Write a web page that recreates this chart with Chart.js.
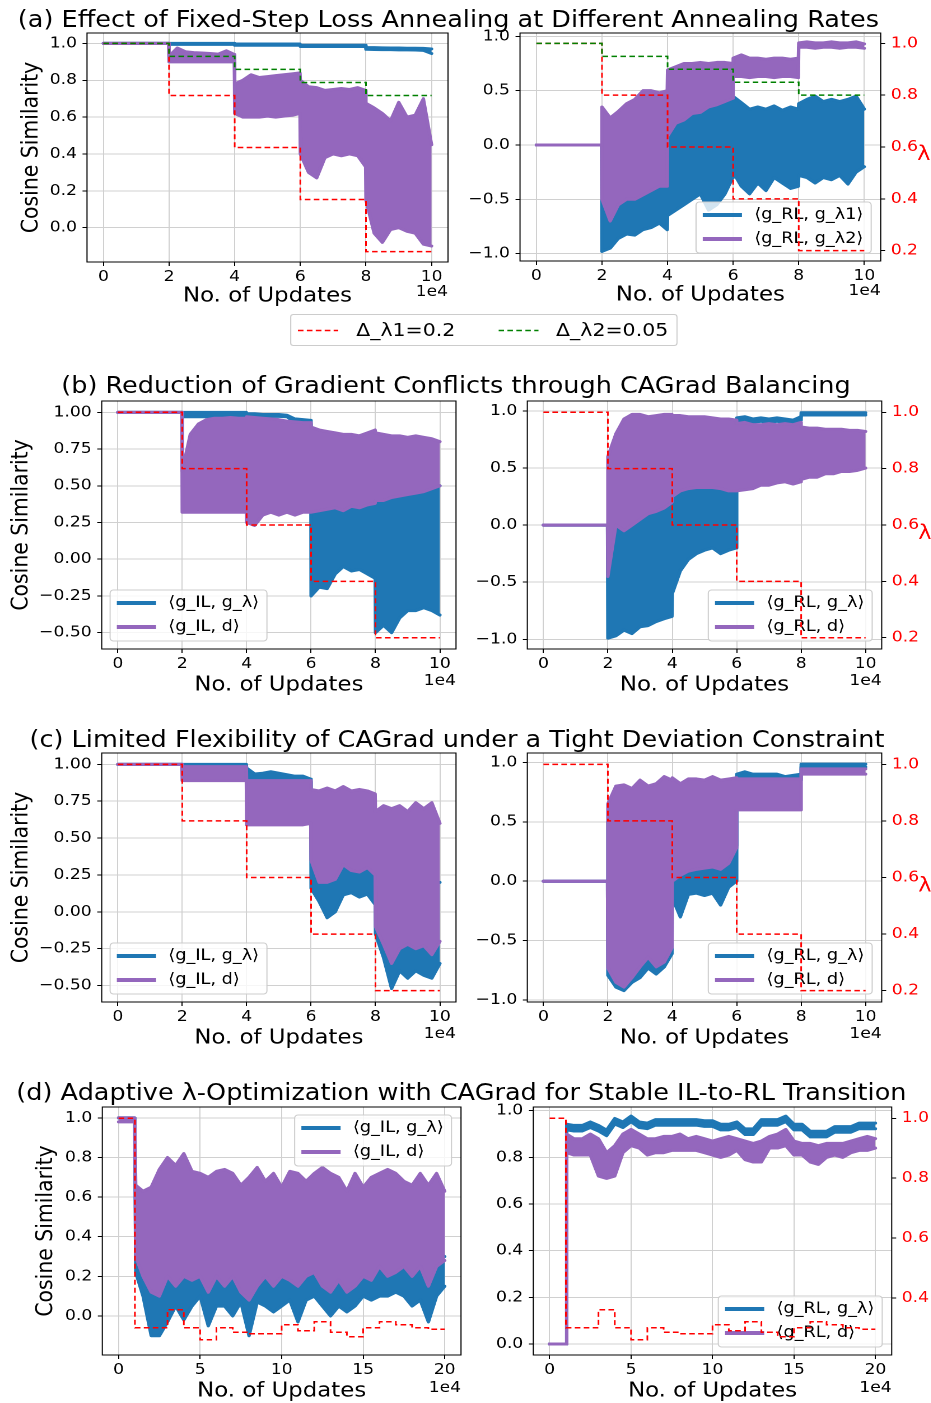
<!DOCTYPE html>
<html><head><meta charset="utf-8">
<script src="https://cdn.jsdelivr.net/npm/chart.js@4.4.0/dist/chart.umd.min.js"></script>
<style>
html,body{margin:0;padding:0;background:#fff;overflow:hidden;}
#root{position:relative;width:831.25px;height:1403px;transform:scaleX(1.12);transform-origin:0 0;font-family:'DejaVu Sans',sans-serif;color:#000;}
#root canvas{position:absolute;}
.ttl{position:absolute;white-space:nowrap;font-size:22.8px;line-height:1;transform:translateX(-50%);}
#figleg{position:absolute;left:259px;top:314px;width:345.5px;height:32px;border:1px solid #ccc;border-radius:3px;box-sizing:border-box;background:#fff;}
#figleg span{position:absolute;top:6px;font-size:18.3px;line-height:1;white-space:nowrap;}
#figleg svg{position:absolute;top:14px;}
</style></head>
<body><div id="root">
<div class="ttl" style="left:400.4px;top:8px">(a) Effect of Fixed-Step Loss Annealing at Different Annealing Rates</div>
<div class="ttl" style="left:407.1px;top:374px">(b) Reduction of Gradient Conflicts through CAGrad Balancing</div>
<div class="ttl" style="left:408px;top:727.5px">(c) Limited Flexibility of CAGrad under a Tight Deviation Constraint</div>
<div class="ttl" style="left:412px;top:1080.8px">(d) Adaptive λ-Optimization with CAGrad for Stable IL-to-RL Transition</div>
<div id="figleg">
 <svg style="left:6px" width="36" height="3"><line x1="0" y1="1.5" x2="36" y2="1.5" stroke="#ff0000" stroke-width="1.5" stroke-dasharray="5,3"/></svg>
 <span style="left:58px">Δ_λ1=0.2</span>
 <svg style="left:185px" width="36" height="3"><line x1="0" y1="1.5" x2="36" y2="1.5" stroke="#008000" stroke-width="1.5" stroke-dasharray="5,3"/></svg>
 <span style="left:236.5px">Δ_λ2=0.05</span>
</div>
</div>
<script>
// ---------- data ----------
const X10 = [0,1,1.99, 2,2.25,2.5,2.75,3,3.25,3.5,3.75,3.99, 4,4.25,4.5,4.75,5,5.25,5.5,5.75,5.99, 6,6.25,6.5,6.75,7,7.25,7.5,7.75,7.99, 8,8.25,8.5,8.75,9,9.25,9.5,9.75,10];
const X20 = [0,0.99,1.05,1.5,2,2.5,3,3.5,4,4.5,5,5.5,6,6.5,7,7.5,8,8.5,9,9.5,10,10.5,11,11.5,12,12.5,13,13.5,14,14.5,15,15.5,16,16.5,17,17.5,18,18.5,19,19.5,20];

const LAM_X10 = [0,2,4,6,8,10];
const LAM_1 = [1.0,0.8,0.6,0.4,0.2,0.2];
const LAM_2 = [1.0,0.95,0.9,0.85,0.8,0.8];
const LAM_X20 = [0,1,2,3,4,5,6,7,8,9,10,11,12,13,14,15,16,17,18,19,20];
const LAM_D = [1.0,0.30,0.30,0.36,0.30,0.26,0.30,0.285,0.28,0.28,0.31,0.29,0.32,0.285,0.27,0.30,0.32,0.31,0.30,0.295,0.295];

const X_TICKS_10 = [0,2,4,6,8,10];
const X_TICKS_20 = [0,5,10,15,20];
const Y_TICKS_01 = [0,0.2,0.4,0.6,0.8,1.0];
const Y_TICKS_PM1 = [-1,-0.5,0,0.5,1];
const Y_TICKS_Q = [-0.5,-0.25,0,0.25,0.5,0.75,1];
const LAM_TICKS = [0.2,0.4,0.6,0.8,1.0];
const LAM_TICKS_D = [0.4,0.6,0.8,1.0];

const LABELS_A = ['\u27E8g_RL, g_\u03BB1\u27E9','\u27E8g_RL, g_\u03BB2\u27E9'];
const LABELS_IL = ['\u27E8g_IL, g_\u03BB\u27E9','\u27E8g_IL, d\u27E9'];
const LABELS_RL = ['\u27E8g_RL, g_\u03BB\u27E9','\u27E8g_RL, d\u27E9'];

// (a) left
const A_L_BLUE_HI = [1,1,1, 1,1,1,1,1,1,1,1,1, .997,.997,.997,.997,.997,.997,.997,.997,.997, .99,.99,.99,.99,.99,.99,.99,.99,.99, .978,.977,.976,.975,.975,.974,.974,.973,.97];
const A_L_BLUE_LO = [1,1,1, .995,.995,.995,.995,.995,.995,.995,.995,.995, .99,.99,.99,.99,.99,.99,.99,.99,.99, .983,.983,.983,.983,.983,.983,.983,.983,.983, .968,.967,.966,.966,.965,.965,.964,.962,.945];
const A_L_PURP_HI = [1,1,1, .93,.975,.955,.95,.948,.945,.942,.96,.94, .78,.8,.83,.815,.82,.825,.83,.835,.84, .8,.765,.76,.745,.75,.755,.75,.76,.745, .675,.65,.62,.58,.68,.6,.61,.7,.45];
const A_L_PURP_LO = [1,1,1, .9,.9,.9,.9,.9,.9,.9,.9,.9, .62,.6,.6,.6,.605,.6,.605,.61,.62, .4,.3,.27,.38,.4,.39,.4,.39,.33, .15,-.03,-.08,-.01,0,-.02,-.03,-.09,-.1];
// (a) right
const A_R_BLUE_HI = [0,0,0, 0,.05,0,.06,.1,.12,.15,.15,.2, .15,.22,.26,.3,.32,.36,.38,.42,.45, .45,.39,.33,.35,.33,.36,.32,.35,.33, .38,.42,.45,.4,.42,.4,.42,.45,.33];
const A_R_BLUE_LO = [0,0,0, -.98,-.95,-.86,-.82,-.83,-.78,-.76,-.72,-.78, -.65,-.6,-.55,-.5,-.45,-.6,-.55,-.45,-.3, -.25,-.38,-.45,-.35,-.42,-.3,-.35,-.4,-.38, -.28,-.3,-.35,-.3,-.32,-.28,-.36,-.25,-.2];
const A_R_PURP_HI = [0,0,0, .35,.25,.31,.38,.42,.5,.5,.48,.5, .69,.72,.75,.75,.76,.75,.76,.76,.75, .8,.83,.8,.8,.79,.8,.8,.79,.8, .94,.95,.94,.94,.95,.94,.94,.95,.93];
const A_R_PURP_LO = [0,0,0, -.5,-.7,-.55,-.5,-.5,-.46,-.42,-.38,-.38, .08,.2,.23,.29,.3,.35,.37,.4,.43, .63,.63,.62,.63,.63,.62,.63,.63,.62, .9,.9,.89,.9,.9,.89,.9,.9,.89];
// (b) left
const B_L_BLUE_HI = [1,1,1, 1,1,1,1,1,1,1,1,1, .99,.99,.985,.985,.985,.98,.955,.95,.945, .33,.34,.35,.36,.4,.38,.44,.4,.42, .42,.43,.45,.45,.46,.47,.48,.5,.5];
const B_L_BLUE_LO = [1,1,1, .97,.97,.97,.97,.97,.97,.97,.97,.97, .975,.975,.972,.972,.972,.97,.93,.925,.92, -.25,-.19,-.2,-.1,-.05,-.08,-.07,-.1,-.13, -.5,-.45,-.5,-.4,-.35,-.35,-.33,-.35,-.38];
const B_L_PURP_HI = [1,1,1, .6,.85,.92,.95,.96,.96,.965,.96,.96, .97,.965,.96,.955,.95,.94,.935,.93,.93, .9,.88,.87,.86,.85,.85,.84,.86,.88, .86,.85,.84,.84,.83,.84,.83,.82,.8];
const B_L_PURP_LO = [1,1,1, .32,.32,.32,.32,.32,.32,.32,.32,.32, .25,.23,.3,.32,.3,.32,.3,.32,.32, .32,.33,.34,.35,.33,.36,.35,.37,.38, .4,.4,.42,.43,.44,.45,.46,.48,.5];
// (b) right
const B_R_BLUE_HI = [0,0,0, 0,.05,0,.06,.1,.12,.15,.15,.2, .3,.32,.33,.34,.35,.35,.35,.35,.35, .94,.95,.93,.94,.93,.94,.93,.92,.95, .985,.985,.985,.985,.985,.985,.985,.985,.985];
const B_R_BLUE_LO = [0,0,0, -.99,-.97,-.92,-.95,-.89,-.88,-.845,-.82,-.8, -.6,-.4,-.3,-.25,-.22,-.2,-.25,-.22,-.2, .91,.92,.9,.91,.9,.91,.9,.9,.92, .965,.965,.965,.965,.965,.965,.965,.965,.965];
const B_R_PURP_HI = [0,0,0, .6,.8,.93,.97,.97,.95,.96,.97,.97, .96,.96,.95,.95,.95,.94,.93,.93,.92, .89,.9,.88,.88,.89,.88,.89,.88,.9, .86,.85,.85,.84,.84,.84,.83,.83,.82];
const B_R_PURP_LO = [0,0,0, -.45,0,-.05,0,.05,.1,.12,.15,.2, .25,.3,.32,.33,.33,.33,.32,.3,.3, .3,.31,.32,.35,.35,.37,.38,.36,.38, .4,.42,.42,.45,.45,.47,.47,.48,.5];
// (c) left
const C_L_BLUE_HI = [1,1,1, 1,1,1,1,1,1,1,1,1, .975,.935,.94,.95,.94,.93,.92,.92,.9, .5,.5,.5,.5,.5,.5,.5,.5,.5, .2,.2,.2,.2,.2,.2,.2,.2,.2];
const C_L_BLUE_LO = [1,1,1, .98,.977,.98,.978,.98,.977,.98,.978,.975, .88,.88,.88,.88,.88,.88,.88,.88,.88, .16,.07,-.04,0,.115,.13,.1,.12,.05, -.15,-.31,-.52,-.4,-.45,-.4,-.43,-.45,-.35];
const C_L_PURP_HI = [1,1,1, .985,.985,.985,.985,.985,.985,.985,.985,.985, .89,.89,.89,.89,.89,.89,.89,.89,.89, .83,.82,.84,.82,.85,.82,.83,.82,.8, .68,.72,.7,.72,.68,.74,.7,.74,.6];
const C_L_PURP_LO = [1,1,1, .89,.89,.89,.89,.89,.89,.89,.89,.89, .59,.59,.59,.59,.59,.59,.59,.59,.6, .35,.2,.2,.22,.32,.28,.27,.3,.25, -.1,-.22,-.35,-.25,-.22,-.25,-.23,-.29,-.2];
// (c) right
const C_R_BLUE_HI = [0,0,0, .5,.5,.5,.5,.5,.5,.5,.5,.5, .3,.3,.3,.3,.3,.3,.3,.3,.3, .9,.92,.9,.9,.9,.9,.88,.89,.9, .985,.985,.985,.985,.985,.985,.985,.985,.985];
const C_R_BLUE_LO = [0,0,0, -.79,-.89,-.92,-.85,-.81,-.73,-.78,-.72,-.61, -.14,-.3,-.11,-.1,-.12,-.1,-.2,-.05,0, .85,.85,.85,.85,.85,.85,.85,.85,.85, .96,.96,.96,.96,.96,.96,.96,.96,.96];
const C_R_PURP_HI = [0,0,0, .65,.8,.81,.78,.85,.8,.82,.88,.85, .87,.82,.86,.86,.85,.88,.85,.86,.87, .86,.86,.86,.86,.86,.86,.86,.86,.86, .945,.945,.945,.945,.945,.945,.945,.945,.945];
const C_R_PURP_LO = [0,0,0, -.73,-.85,-.89,-.81,-.72,-.64,-.72,-.68,-.56, 0,.05,.085,.1,.11,.12,.1,.15,.28, .6,.6,.6,.6,.6,.6,.6,.6,.6, .9,.9,.9,.9,.9,.9,.9,.9,.9];
// (d) left
const D_L_BLUE_HI = [1,1, .4, .32,.3,.3,.35,.33,.3,.32,.35,.3,.33,.3,.32,.35,.33,.3,.35,.32,.33,.3,.35,.32,.35,.33,.3,.32,.3,.33,.38,.35,.33,.35,.32,.33,.35,.32,.3,.33,.3];
const D_L_BLUE_LO = [1,1, .22, .1,-.1,-.1,-.03,.05,-.02,.05,.1,-.05,.05,.05,0,.07,-.1,.07,.05,.02,.05,.08,-.03,.08,.1,.05,0,.05,.02,.05,.1,.08,.1,.1,.12,.1,.05,.08,-.03,.1,.15];
const D_L_PURP_HI = [1,1, .66, .63,.65,.74,.8,.76,.82,.73,.72,.7,.73,.74,.72,.66,.7,.75,.68,.72,.65,.73,.72,.68,.72,.75,.72,.7,.63,.72,.65,.7,.72,.74,.72,.68,.66,.72,.66,.72,.63];
const D_L_PURP_LO = [.98,.98, .3, .2,.12,.1,.2,.15,.2,.18,.2,.12,.2,.15,.2,.12,.08,.15,.2,.15,.2,.18,.15,.2,.22,.15,.12,.18,.12,.15,.2,.18,.25,.2,.22,.25,.2,.25,.15,.25,.28];
// (d) right
const D_R_BLUE_HI = [0,0, .942, .937,.937,.952,.937,.917,.967,.952,.977,.952,.947,.962,.962,.962,.962,.962,.962,.957,.957,.942,.942,.952,.922,.922,.962,.962,.962,.977,.942,.942,.912,.912,.912,.932,.932,.932,.947,.947,.947];
const D_R_BLUE_LO = [0,0, .918, .913,.913,.928,.913,.893,.943,.928,.953,.928,.923,.938,.938,.938,.938,.938,.938,.933,.933,.918,.918,.928,.898,.898,.938,.938,.938,.953,.918,.918,.888,.888,.888,.908,.908,.908,.923,.923,.923];
const D_R_PURP_HI = [0,0, .9, .88,.88,.9,.88,.82,.85,.9,.92,.9,.88,.88,.89,.89,.9,.88,.89,.88,.87,.88,.89,.88,.87,.86,.87,.89,.9,.92,.87,.86,.86,.85,.86,.86,.86,.87,.88,.89,.88];
const D_R_PURP_LO = [0,0, .82, .81,.81,.81,.72,.71,.72,.82,.85,.84,.81,.82,.82,.83,.83,.83,.83,.82,.81,.8,.81,.83,.79,.78,.78,.84,.84,.85,.81,.81,.78,.77,.8,.81,.8,.82,.83,.83,.84];

// ---------- style constants ----------
const FONT = "'DejaVu Sans', sans-serif";
const SX = 1.12;
const BLUE = '#1f77b4', PURPLE = '#9467bd', RED = '#ff0000', GREEN = '#008000';
const GRID = '#d0d0d0';
const TICK_SIZE = 15.3, LABEL_SIZE = 20.4, LEG_SIZE = 15.8;
const PAD_T = 14, XAX_H = 50, COL_SPLIT = 415, ROOT_W = 831;

const PANELS = [
 {col:0, area:[87,33,448,262], x:[-0.5,10.5], xt:X_TICKS_10, y:[-0.1865,1.0565], yt:Y_TICKS_01, yd:1, lam:[0.16,1.04], lamShow:false,
  series:[[X10,A_L_BLUE_HI,A_L_BLUE_LO,BLUE],[X10,A_L_PURP_HI,A_L_PURP_LO,PURPLE]],
  lams:[[LAM_X10,LAM_1,RED],[LAM_X10,LAM_2,GREEN]], ytPad:16, xtPad:3.8, offDy:30, legend:null},
 {col:1, area:[520,33.3,880.7,261.7], x:[-0.5,10.5], xt:X_TICKS_10, y:[-1.068,1.031], yt:Y_TICKS_PM1, yd:1, lam:[0.16,1.04], lamShow:true, lamTicks:LAM_TICKS,
  series:[[X10,A_R_BLUE_HI,A_R_BLUE_LO,BLUE],[X10,A_R_PURP_HI,A_R_PURP_LO,PURPLE]],
  lams:[[LAM_X10,LAM_1,RED],[LAM_X10,LAM_2,GREEN]], xtPad:3.8, offDy:30, legend:{corner:'lr', labels:LABELS_A}},
 {col:0, area:[101.7,400.7,456,649], x:[-0.5,10.5], xt:X_TICKS_10, y:[-0.611,1.077], yt:Y_TICKS_Q, yd:2, lam:[0.16,1.04], lamShow:false,
  series:[[X10,B_L_BLUE_HI,B_L_BLUE_LO,BLUE],[X10,B_L_PURP_HI,B_L_PURP_LO,PURPLE]],
  lams:[[LAM_X10,LAM_1,RED]], ytPad:7.1, xtPad:1.8, offDy:32, legend:{corner:'ll', labels:LABELS_IL}},
 {col:1, area:[527.3,400.7,881.7,649], x:[-0.5,10.5], xt:X_TICKS_10, y:[-1.085,1.0875], yt:Y_TICKS_PM1, yd:1, lam:[0.16,1.04], lamShow:true, lamTicks:LAM_TICKS,
  series:[[X10,B_R_BLUE_HI,B_R_BLUE_LO,BLUE],[X10,B_R_PURP_HI,B_R_PURP_LO,PURPLE]],
  lams:[[LAM_X10,LAM_1,RED]], xtPad:1.8, offDy:32, legend:{corner:'lr', labels:LABELS_RL}},
 {col:0, area:[101.7,753.3,456,1002.3], x:[-0.5,10.5], xt:X_TICKS_10, y:[-0.611,1.077], yt:Y_TICKS_Q, yd:2, lam:[0.16,1.04], lamShow:false,
  series:[[X10,C_L_BLUE_HI,C_L_BLUE_LO,BLUE],[X10,C_L_PURP_HI,C_L_PURP_LO,PURPLE]],
  lams:[[LAM_X10,LAM_1,RED]], ytPad:7.1, xtPad:1.8, offDy:32, legend:{corner:'ll', labels:LABELS_IL}},
 {col:1, area:[527.3,753.3,881.7,1002.3], x:[-0.5,10.5], xt:X_TICKS_10, y:[-1.015,1.078], yt:Y_TICKS_PM1, yd:1, lam:[0.16,1.04], lamShow:true, lamTicks:LAM_TICKS,
  series:[[X10,C_R_BLUE_HI,C_R_BLUE_LO,BLUE],[X10,C_R_PURP_HI,C_R_PURP_LO,PURPLE]],
  lams:[[LAM_X10,LAM_1,RED]], xtPad:1.8, offDy:32, legend:{corner:'lr', labels:LABELS_RL}},
 {col:0, area:[102.3,1106.7,461,1355], x:[-1,21], xt:X_TICKS_20, y:[-0.197,1.055], yt:Y_TICKS_01, yd:1, lam:[0.209,1.0376], lamShow:false,
  series:[[X20,D_L_BLUE_HI,D_L_BLUE_LO,BLUE],[X20,D_L_PURP_HI,D_L_PURP_LO,PURPLE]],
  lams:[[LAM_X20,LAM_D,RED]], ytPad:29, xtPad:1.8, offDy:33, legend:{corner:'ur', labels:LABELS_IL}},
 {col:1, area:[533.3,1106.7,891.7,1355], x:[-1,21], xt:X_TICKS_20, y:[-0.047,1.016], yt:Y_TICKS_01, yd:1, lam:[0.209,1.0376], lamShow:true, lamTicks:LAM_TICKS_D, noLamLabel:true,
  series:[[X20,D_R_BLUE_HI,D_R_BLUE_LO,BLUE],[X20,D_R_PURP_HI,D_R_PURP_LO,PURPLE]],
  lams:[[LAM_X20,LAM_D,RED]], xtPad:1.8, offDy:33, legend:{corner:'lr', labels:LABELS_RL}},
];

// ---------- helpers ----------
const fmt = d => v => Number(v).toFixed(d).replace('-', '\u2212');
function band(xs, hi, lo, color, order){
  const common = {borderColor:color, backgroundColor:color, borderWidth:3, pointRadius:0, tension:0,
                  borderJoinStyle:'round', borderCapStyle:'round', order};
  return [
    Object.assign({data: xs.map((x,i)=>({x, y:hi[i]})), fill:false}, common),
    Object.assign({data: xs.map((x,i)=>({x, y:lo[i]})), fill:'-1'}, common)
  ];
}
function lamLine(xs, ys, color, order){
  return {data: xs.map((x,i)=>({x, y:ys[i]})), yAxisID:'lam', borderColor:color, backgroundColor:color,
          borderWidth:1.5, borderDash:[5,3], stepped:'before', pointRadius:0, fill:false, order, lamLine:true};
}
function drawLegend(chart){
  const p = chart.canvas.$panel; const L = p.legend; if(!L) return;
  const ctx = chart.ctx, ca = chart.chartArea;
  ctx.save();
  ctx.font = LEG_SIZE + 'px ' + FONT;
  const tw = Math.max(...L.labels.map(t => ctx.measureText(t).width));
  const w = 52 + tw + 7, h = 51;
  const x = L.corner[1] === 'l' ? ca.left + 7.5 : ca.right - 8.5 - w;
  const y = L.corner[0] === 'u' ? ca.top + 8 : ca.bottom - 8 - h;
  ctx.beginPath();
  if (ctx.roundRect) ctx.roundRect(x, y, w, h, 3); else ctx.rect(x, y, w, h);
  ctx.fillStyle = 'rgba(255,255,255,0.8)'; ctx.fill();
  ctx.strokeStyle = '#cccccc'; ctx.lineWidth = 1; ctx.stroke();
  const cols = [BLUE, PURPLE];
  L.labels.forEach((t,i) => {
    const cy = y + 13 + i*24;
    ctx.strokeStyle = cols[i]; ctx.lineWidth = 4; ctx.setLineDash([]);
    ctx.beginPath(); ctx.moveTo(x+6, cy); ctx.lineTo(x+41, cy); ctx.stroke();
    ctx.fillStyle = '#000'; ctx.textAlign = 'left'; ctx.textBaseline = 'middle';
    ctx.fillText(t, x+52, cy);
  });
  ctx.restore();
}
const extras = {
  id:'extras',
  beforeDraw(chart){ chart.$legDone = false; },
  beforeDatasetDraw(chart, args){
    const ds = chart.data.datasets[args.index];
    if (!chart.$legDone && ds.lamLine){ drawLegend(chart); chart.$legDone = true; }
  },
  afterDatasetsDraw(chart){ if(!chart.$legDone){ drawLegend(chart); chart.$legDone = true; } },
  afterDraw(chart){
    const p = chart.canvas.$panel, ctx = chart.ctx, ca = chart.chartArea;
    ctx.save();
    ctx.strokeStyle = '#000'; ctx.lineWidth = 1; ctx.setLineDash([]);
    ctx.strokeRect(ca.left, ca.top, ca.right-ca.left, ca.bottom-ca.top);
    ctx.font = TICK_SIZE + 'px ' + FONT; ctx.fillStyle = '#000';
    ctx.textAlign = 'right'; ctx.textBaseline = 'middle';
    ctx.fillText('1e4', ca.right, ca.bottom + p.offDy);
    if (p.lamShow && !p.noLamLabel){
      ctx.font = '20px ' + FONT; ctx.fillStyle = RED; ctx.textAlign = 'center';
      ctx.fillText('\u03BB', ca.right + 38.5, ca.top + 0.535*(ca.bottom-ca.top));
    }
    ctx.restore();
  }
};

// ---------- build ----------
const root = document.getElementById('root');
PANELS.forEach(p => {
  const [L,T,R,B] = p.area;
  const cl = p.col ? COL_SPLIT : 0;
  const cw = p.col ? (ROOT_W - COL_SPLIT) : COL_SPLIT;
  const top = T - PAD_T;
  const h = Math.round((B - T) + PAD_T + XAX_H);
  const cv = document.createElement('canvas');
  cv.width = cw; cv.height = h;
  cv.style.left = cl + 'px'; cv.style.top = top + 'px';
  root.appendChild(cv);
  cv.$panel = p;
  const leftW = L / SX - cl;
  const rightW = cl + cw - R / SX;

  const datasets = [];
  p.lams.forEach(l => datasets.push(lamLine(l[0], l[1], l[2], l[2] === GREEN ? 0 : 1)));
  p.series.forEach(s => band(s[0], s[1], s[2], s[3], s[3] === BLUE ? 5 : 4).forEach(d => datasets.push(d)));

  const zeroPad = s => { s.paddingLeft = 0; s.paddingRight = 0; s.paddingTop = 0; s.paddingBottom = 0; };
  const tickFont = {family: FONT, size: TICK_SIZE};
  const scales = {
    x: {type:'linear', position:'bottom', min:p.x[0], max:p.x[1],
        afterBuildTicks: s => { s.ticks = p.xt.map(v => ({value:v})); },
        afterFit: s => { zeroPad(s); s.height = XAX_H; },
        ticks: {font:tickFont, color:'#000', padding:2, autoSkip:false, maxRotation:0, minRotation:0, callback: v => String(v)},
        grid: {color:GRID, lineWidth:1, tickLength:4, tickColor:'#000', tickWidth:1, drawTicks:true},
        border: {display:false},
        title: {display:true, text:'No. of Updates', color:'#000', font:{family:FONT, size:LABEL_SIZE}, padding:{top:0, bottom:p.xtPad}}},
    y: {type:'linear', position:'left', min:p.y[0], max:p.y[1],
        afterBuildTicks: s => { s.ticks = p.yt.map(v => ({value:v})); },
        afterFit: s => { zeroPad(s); s.width = leftW; },
        ticks: {font:tickFont, color:'#000', padding:5, autoSkip:false, callback: fmt(p.yd)},
        grid: {color:GRID, lineWidth:1, tickLength:4, tickColor:'#000', tickWidth:1, drawTicks:true},
        border: {display:false},
        title: {display: p.col === 0, text:'Cosine Similarity', color:'#000', font:{family:FONT, size:LABEL_SIZE}, padding:{top:p.ytPad || 0, bottom:0}}},
    lam: {type:'linear', position:'right', display:p.lamShow, min:p.lam[0], max:p.lam[1]}
  };
  if (p.lamShow){
    Object.assign(scales.lam, {
      afterBuildTicks: s => { s.ticks = p.lamTicks.map(v => ({value:v})); },
      afterFit: s => { zeroPad(s); s.width = rightW; },
      ticks: {font:tickFont, color:RED, padding:5, autoSkip:false, callback: fmt(1)},
      grid: {drawOnChartArea:false, tickLength:4, tickColor:'#000', tickWidth:1, drawTicks:true, color:GRID},
      border: {display:false}
    });
  }
  new Chart(cv, {
    type:'line',
    data:{datasets},
    options:{
      responsive:false, animation:false, devicePixelRatio:2,
      layout:{autoPadding:false, padding:{left:0, right: p.lamShow ? 0 : rightW, top:PAD_T, bottom:0}},
      plugins:{legend:{display:false}, tooltip:{enabled:false}},
      scales
    },
    plugins:[extras]
  });
});
</script>
</body></html>
